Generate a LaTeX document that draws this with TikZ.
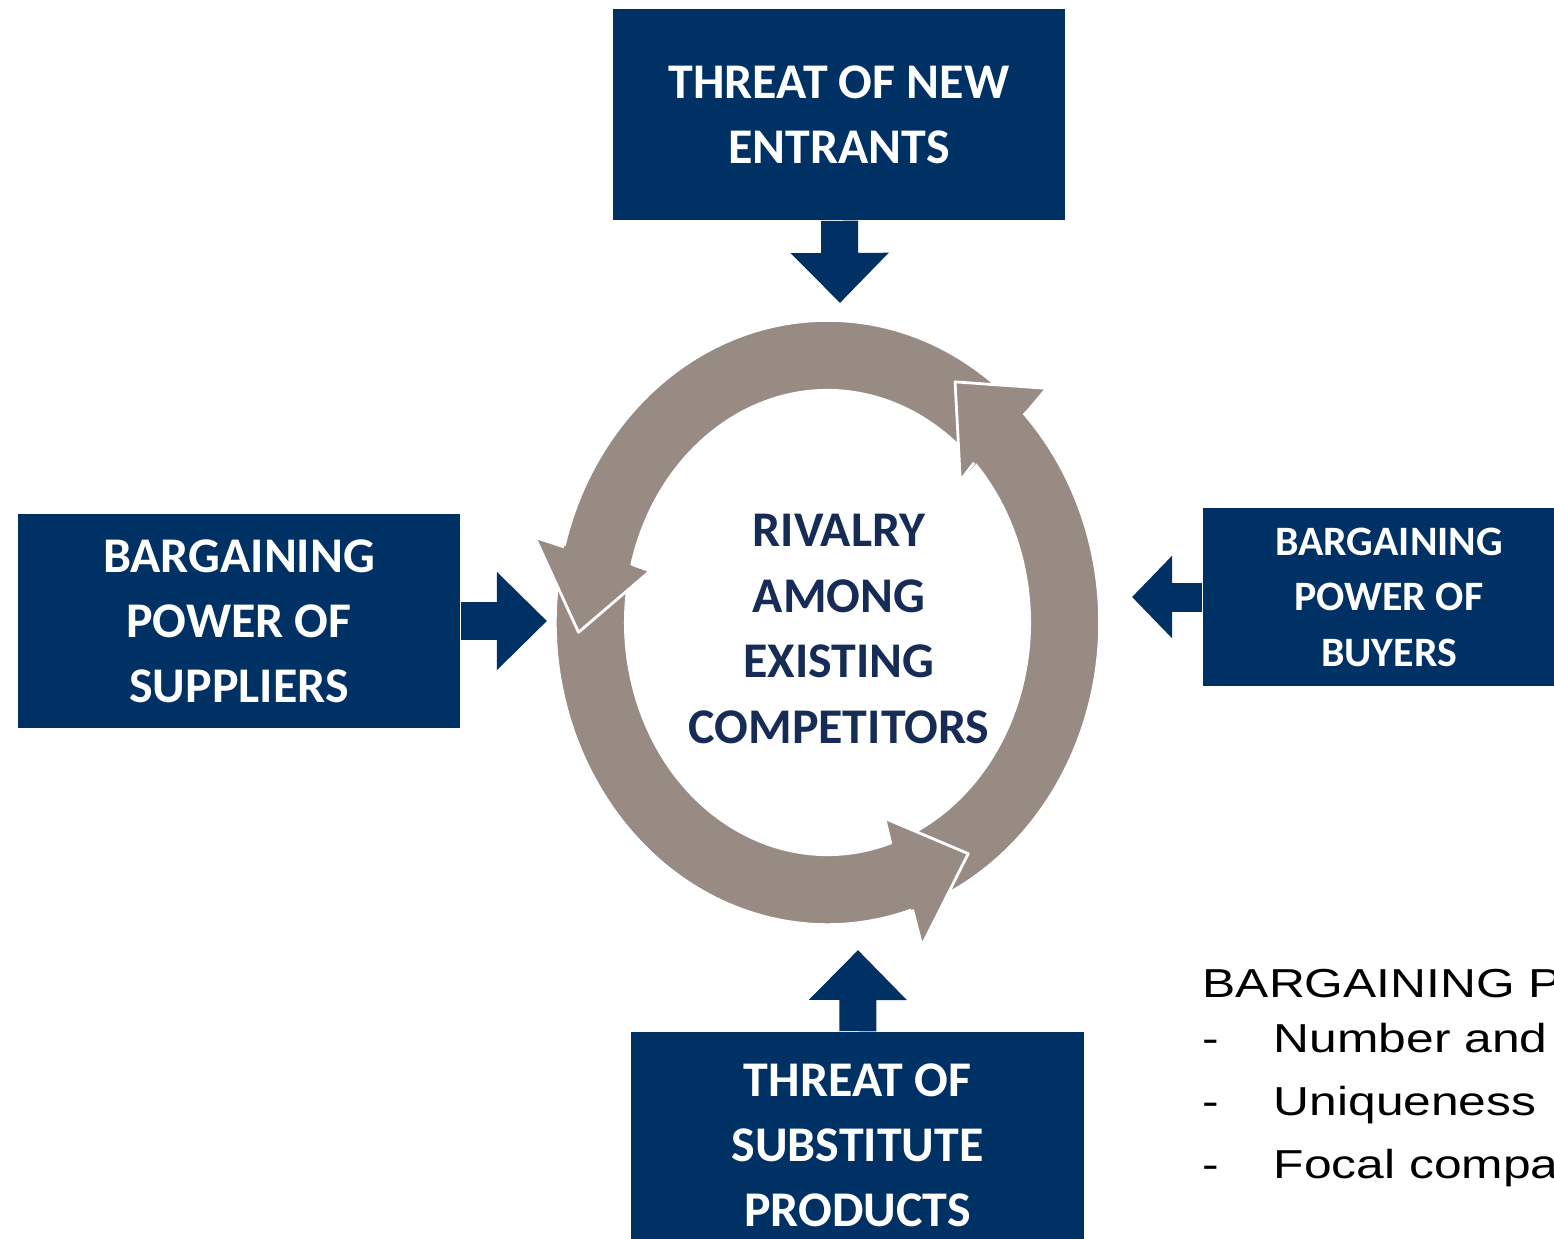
\documentclass[tikz,border=0pt]{standalone}
\usepackage{fontspec}
\setmainfont{Carlito}
\newfontfamily\notefont[FakeStretch=1.23]{Liberation Sans}
\usepackage{tikz}
\usetikzlibrary{arrows.meta, calc, positioning}
\definecolor{navy}{RGB}{0,49,100}
\definecolor{ringgray}{RGB}{151,139,132}
\definecolor{rivalblue}{RGB}{22,44,86}

\begin{document}
\begin{tikzpicture}[x=0.01cm, y=0.01cm,
    force/.style={fill=navy, text=white, inner sep=0, align=center,
      font=\bfseries\fontsize{14.2pt}{18.5pt}\selectfont},
    push/.style={navy, line width=0.37cm, -{Triangle[width=0.95cm, length=0.5cm]}},
    ringpart/.style={fill=ringgray, draw=white, line width=0.8pt, line join=round}]
\useasboundingbox (0,0) rectangle (1554,-1239);
\clip (0,0) rectangle (1554,-1239);

% the four forces
\node[force, minimum width=4.52cm, minimum height=2.11cm] (entrants) at (839,-114.5) {THREAT OF NEW\\ENTRANTS};
\node[force, minimum width=4.42cm, minimum height=2.14cm] (suppliers) at (239,-621) {BARGAINING\\POWER OF\\SUPPLIERS};
\node[force, minimum width=3.72cm, minimum height=1.78cm,
      font=\bfseries\fontsize{11.9pt}{15.8pt}\selectfont] (buyers) at (1389,-597) {BARGAINING\\POWER OF\\BUYERS};
\node[force, minimum width=4.53cm, minimum height=2.26cm] (substitutes) at (857.5,-1145) {THREAT OF\\SUBSTITUTE\\PRODUCTS};

\coordinate (entrants tip) at (840,-303);
\coordinate (suppliers tip) at (547,-621);
\coordinate (buyers tip) at (1132,-597);
\coordinate (substitutes tip) at (858,-950);

\draw[push] (entrants) -- (entrants tip);
\draw[push] (suppliers) -- (suppliers tip);
\draw[push, line width=0.29cm, -{Triangle[width=0.8cm, length=0.4cm]}] (buyers) -- (buyers tip);
\draw[push] (substitutes) -- (substitutes tip);

% rivalry ring
\coordinate (ring) at (827.5,-622.5);
\begin{scope}[shift={(ring)}]
  \foreach \a/\b in {45.5/166.5, 167.5/289.2, 290.2/404.5}
    \filldraw[ringpart] (\a:2.72cm and 3.02cm) arc[start angle=\a, end angle=\b, x radius=2.72cm, y radius=3.02cm]
      -- (\b:2.02cm and 2.32cm) arc[start angle=\b, end angle=\a, x radius=2.02cm, y radius=2.32cm] -- cycle;
  \foreach \b/\t in {165.5/182, 288.2/304.4, 403.5/419.2} {
    \fill[ringgray] (\b:3.02cm and 3.40cm) -- (\t:2.49cm and 2.80cm) -- (\b:1.83cm and 2.06cm) -- cycle;
    \draw[white, line width=0.8pt, line join=round] (\b:2.72cm and 3.02cm) -- (\b:3.02cm and 3.40cm)
      -- (\t:2.49cm and 2.80cm) -- (\b:1.83cm and 2.06cm) -- (\b:2.02cm and 2.32cm);
  }
\end{scope}
\node[align=center, text=rivalblue, font=\bfseries\fontsize{14.2pt}{18.6pt}\selectfont] (rivalry) at (839,-629)
  {RIVALRY\\AMONG\\EXISTING\\COMPETITORS};

% notes
\node[anchor=base west, align=left, inner sep=0, font=\notefont\fontsize{11.5pt}{17.9pt}\selectfont] (notes) at (1202,-1178)
  {BARGAINING P\\[-0.08cm]
   \makebox[0.71cm][l]{-}Number and\\
   \makebox[0.71cm][l]{-}Uniqueness\\
   \makebox[0.71cm][l]{-}Focal compa};
\end{tikzpicture}
\end{document}
